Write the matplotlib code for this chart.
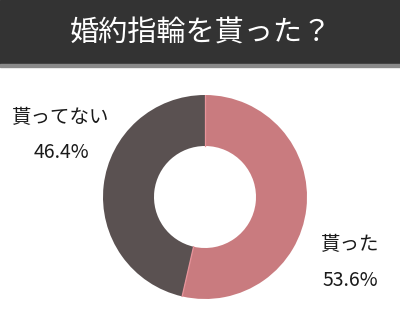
import numpy as np
import matplotlib.pyplot as plt
from matplotlib.patches import Rectangle

plt.rcParams['font.family'] = ['Noto Sans CJK JP', 'DejaVu Sans']

title = "婚約指輪を貰った？"
labels = ["貰った", "貰ってない"]
values = [53.6, 46.4]
colors = ["#c97b7f", "#5a5151"]

fig = plt.figure(figsize=(4.0, 3.27), dpi=100)

# header band
hdr = fig.add_axes([0, 0, 1, 1])
hdr.set_xlim(0, 400)
hdr.set_ylim(327, 0)
hdr.axis("off")
hdr.add_patch(Rectangle((0, 0), 400, 65, color="#333333"))
hdr.add_patch(Rectangle((0, 64), 400, 3, color="#8a8a8a"))
hdr.text(201, 34, title, color="white", fontsize=21, ha="center", va="center")

# donut
cx, cy, r = 205, 197, 102
ax = fig.add_axes([(cx - r) / 400, 1 - (cy + r) / 327, 2 * r / 400, 2 * r / 327])
ax.pie(values, colors=colors, startangle=90, counterclock=False, radius=1,
       wedgeprops=dict(width=0.5, edgecolor="none"))
# thin separators between slices
angles = 90 - 360 * np.cumsum([0] + values[:-1]) / 100
for a in angles:
    t = np.deg2rad(a)
    ax.plot([0.5 * np.cos(t), np.cos(t)], [0.5 * np.sin(t), np.sin(t)],
            color="#e8939a", lw=0.9)
ax.set_xlim(-1, 1)
ax.set_ylim(-1, 1)
ax.set_aspect("equal")
ax.axis("off")

fs = 14
tc = "#1a1a1a"
hdr.text(350, 245, labels[0], fontsize=fs, ha="center", va="center", color=tc)
hdr.text(350, 280, f"{values[0]}%", fontsize=fs, ha="center", va="center", color=tc)
hdr.text(61, 118, labels[1], fontsize=fs, ha="center", va="center", color=tc)
hdr.text(61, 153, f"{values[1]}%", fontsize=fs, ha="center", va="center", color=tc)

fig.savefig("out.png", dpi=100)
